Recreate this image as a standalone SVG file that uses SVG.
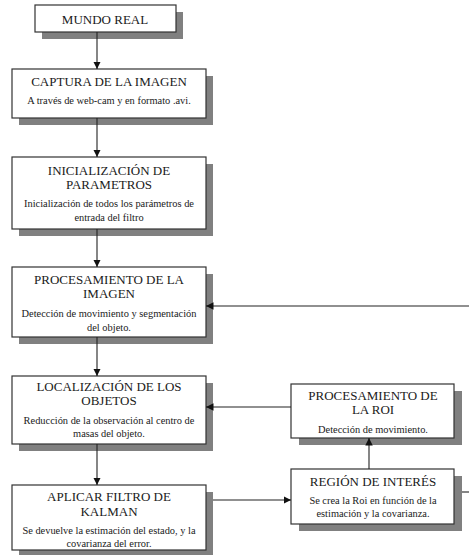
<svg xmlns="http://www.w3.org/2000/svg" width="469" height="558" viewBox="0 0 469 558">
  <style>
    .box { fill: #ffffff; stroke: #333333; stroke-width: 1.2; }
    .shadow { fill: #808080; }
    text { font-family: 'Liberation Serif', 'DejaVu Serif', serif; fill: #1a1a1a; text-anchor: middle; }
    .title { font-size: 13px; }
    .sub { font-size: 10.4px; }
    .wire { fill: none; stroke: #222222; stroke-width: 1.1; }
  </style>
  <defs>
    <marker id="arrow" viewBox="0 0 10 10" refX="10" refY="5" markerWidth="7.5" markerHeight="7.5" markerUnits="userSpaceOnUse" orient="auto">
      <path d="M0,0 L10,5 L0,10 Z" fill="#111111"/>
    </marker>
  </defs>

  <rect width="469" height="558" fill="#ffffff"/>

  <g id="mundo-real">
    <rect class="shadow" x="42" y="12" width="141" height="27"/>
    <rect class="box" x="35" y="5" width="141" height="27"/>
    <text class="title" x="105" y="24">MUNDO REAL</text>
  </g>

  <g id="captura">
    <rect class="shadow" x="19" y="76" width="194" height="49"/>
    <rect class="box" x="12" y="69" width="194" height="49"/>
    <text class="title" x="109" y="86">CAPTURA DE LA IMAGEN</text>
    <text class="sub" x="109" y="104">A través de web-cam y en formato .avi.</text>
  </g>

  <g id="inicializacion">
    <rect class="shadow" x="19" y="164" width="194" height="72"/>
    <rect class="box" x="12" y="157" width="194" height="72"/>
    <text class="title" x="109" y="175">INICIALIZACIÓN DE</text>
    <text class="title" x="109" y="189">PARAMETROS</text>
    <text class="sub" x="109" y="207">Inicialización de todos los parámetros de</text>
    <text class="sub" x="109" y="221">entrada del filtro</text>
  </g>

  <g id="procesamiento-imagen">
    <rect class="shadow" x="19" y="274" width="194" height="70"/>
    <rect class="box" x="12" y="267" width="194" height="70"/>
    <text class="title" x="109" y="284">PROCESAMIENTO DE LA</text>
    <text class="title" x="109" y="298">IMAGEN</text>
    <text class="sub" x="109" y="317">Detección de movimiento y segmentación</text>
    <text class="sub" x="109" y="331">del objeto.</text>
  </g>

  <g id="localizacion">
    <rect class="shadow" x="19" y="383" width="194" height="68"/>
    <rect class="box" x="12" y="376" width="194" height="68"/>
    <text class="title" x="109" y="391">LOCALIZACIÓN DE LOS</text>
    <text class="title" x="109" y="405">OBJETOS</text>
    <text class="sub" x="109" y="424">Reducción de la observación al centro de</text>
    <text class="sub" x="109" y="437">masas del objeto.</text>
  </g>

  <g id="kalman">
    <rect class="shadow" x="19" y="492" width="194" height="63"/>
    <rect class="box" x="12" y="485" width="194" height="65"/>
    <text class="title" x="109" y="501">APLICAR FILTRO DE</text>
    <text class="title" x="109" y="516">KALMAN</text>
    <text class="sub" x="109" y="534">Se devuelve la estimación del estado, y la</text>
    <text class="sub" x="109" y="547">covarianza del error.</text>
  </g>

  <g id="procesamiento-roi">
    <rect class="shadow" x="299" y="391" width="163" height="54"/>
    <rect class="box" x="291" y="384" width="163" height="54"/>
    <text class="title" x="373" y="400">PROCESAMIENTO DE</text>
    <text class="title" x="373" y="414">LA ROI</text>
    <text class="sub" x="373" y="433">Detección de movimiento.</text>
  </g>

  <g id="region-interes">
    <rect class="shadow" x="299" y="476" width="163" height="55"/>
    <rect class="box" x="291" y="469" width="163" height="55"/>
    <text class="title" x="373" y="486">REGIÓN DE INTERÉS</text>
    <text class="sub" x="373" y="504">Se crea la Roi en función de la</text>
    <text class="sub" x="373" y="517">estimación y la covarianza.</text>
  </g>

  <g id="connectors">
    <path class="wire" d="M97,32 V69" marker-end="url(#arrow)"/>
    <path class="wire" d="M97,118 V157" marker-end="url(#arrow)"/>
    <path class="wire" d="M97,229 V267" marker-end="url(#arrow)"/>
    <path class="wire" d="M97,337 V376" marker-end="url(#arrow)"/>
    <path class="wire" d="M97,444 V485" marker-end="url(#arrow)"/>
    <path class="wire" d="M469,306 H206" marker-end="url(#arrow)"/>
    <path class="wire" d="M291,407 H206" marker-end="url(#arrow)"/>
    <path class="wire" d="M213,500 H291" marker-end="url(#arrow)"/>
    <path class="wire" d="M369,469 V438" marker-end="url(#arrow)"/>
    <path class="wire" d="M462,492 H469"/>
  </g>
</svg>
